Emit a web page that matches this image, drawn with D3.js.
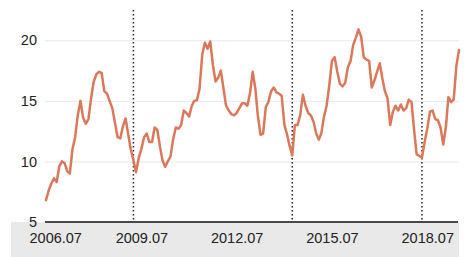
<!DOCTYPE html>
<html>
<head>
<meta charset="utf-8">
<script src="https://cdn.jsdelivr.net/npm/d3@7"></script>
<style>
  html, body { margin: 0; padding: 0; background: #fff; }
  svg { display: block; font-family: "Liberation Sans", Arial, sans-serif; }
</style>
</head>
<body>
<svg id="chart" width="469" height="257"></svg>
<script>
// monthly series, first month 2006.07
const startMonth = "2006-07";
const values = [
  6.8, 7.6, 8.2, 8.6, 8.3, 9.6, 10.0, 9.85, 9.2, 9.0, 11.0, 12.0,
  13.8, 15.0, 13.6, 13.1, 13.5, 15.2, 16.6, 17.2, 17.4, 17.3, 15.8, 15.6,
  15.0, 14.4, 13.2, 12.0, 11.9, 12.9, 13.55, 12.2, 11.0, 10.1, 9.1, 10.3,
  11.0, 12.0, 12.3, 11.6, 11.6, 12.8, 12.6, 11.2, 10.1, 9.55, 10.0, 10.4,
  11.8, 12.8, 12.7, 13.0, 14.2, 14.0, 13.7, 14.6, 15.0, 15.05, 16.0, 18.8,
  19.8, 19.3, 19.9, 18.0, 16.6, 16.9, 17.5, 16.0, 14.6, 14.2, 13.9, 13.8,
  14.0, 14.4, 14.8, 14.8, 14.6, 15.6, 17.4, 16.0, 13.8, 12.2, 12.3, 14.5,
  14.9, 15.8, 16.1, 15.7, 15.6, 15.4, 13.0, 12.2, 11.3, 10.5, 13.0, 13.0,
  13.8, 15.5, 14.6, 14.0, 13.8, 13.3, 12.3, 11.8, 12.3, 13.7, 14.6, 16.3,
  18.3, 18.6, 17.4, 16.4, 16.2, 16.5, 17.8, 18.3, 19.6, 20.2, 20.9, 20.3,
  18.6, 18.4, 18.3, 16.1, 16.7, 17.4, 18.1, 16.8, 15.8, 15.2, 13.0, 14.1,
  14.6, 14.2, 14.7, 14.2, 14.4, 15.1, 14.9, 12.5, 10.6, 10.45, 10.3, 11.6,
  12.7, 14.1, 14.2, 13.5, 13.4, 12.8, 11.4, 12.9, 15.3, 14.9, 15.1, 17.9,
  19.2
];
const xTicks = ["2006-07", "2009-07", "2012-07", "2015-07", "2018-07"];
const yTicks = [5, 10, 15, 20];
const markers = ["2009-04", "2014-04", "2018-05"];

const parse = d3.timeParse("%Y-%m");
const fmt = d3.timeFormat("%Y.%m");
const t0 = parse(startMonth);
const data = values.map((v, i) => ({ date: d3.timeMonth.offset(t0, i), value: v }));

const svg = d3.select("#chart");
const W = 469, H = 257;
const margin = { top: 10, right: 10, bottom: 35, left: 46 };

const x = d3.scaleTime()
  .domain(d3.extent(data, d => d.date))
  .range([margin.left, W - margin.right]);
const y = d3.scaleLinear()
  .domain([5, 22.5])
  .range([H - margin.bottom, margin.top]);

// grey band under the axis
svg.append("rect")
  .attr("x", 11).attr("y", y(5))
  .attr("width", 448).attr("height", H - y(5))
  .attr("fill", "#e9e9e9");

// gridlines + y labels
const yAxis = svg.append("g")
  .attr("transform", `translate(${margin.left - 1},0)`)
  .call(d3.axisLeft(y).tickValues(yTicks).tickSize(-(W - margin.left - 9)).tickPadding(8));
yAxis.select(".domain").remove();
yAxis.selectAll(".tick line").attr("stroke", "#e8e8e8").attr("stroke-width", 1);
yAxis.selectAll(".tick text")
  .attr("font-size", 14.5).attr("fill", "#222")
  .attr("font-family", "Liberation Sans, Arial, sans-serif");

// dotted event lines
svg.selectAll(".marker")
  .data(markers)
  .enter().append("line")
  .attr("class", "marker")
  .attr("x1", d => x(parse(d))).attr("x2", d => x(parse(d)))
  .attr("y1", margin.top).attr("y2", y(5))
  .attr("stroke", "#222").attr("stroke-width", 1.5)
  .attr("stroke-dasharray", "1.5,2.5");

// line
svg.append("path")
  .datum(data)
  .attr("fill", "none")
  .attr("stroke", "#da785b")
  .attr("stroke-width", 2.5)
  .attr("stroke-linejoin", "round")
  .attr("stroke-linecap", "round")
  .attr("d", d3.line().x(d => x(d.date)).y(d => y(d.value)));

// x axis
const xAxis = svg.append("g")
  .attr("transform", `translate(0,${y(5)})`)
  .call(d3.axisBottom(x).tickValues(xTicks.map(parse)).tickFormat(fmt).tickSize(0).tickPadding(11));
xAxis.select(".domain").attr("stroke", "#111").attr("stroke-width", 1.6)
  .attr("d", `M${margin.left - 1},0H${W - 11}`);
xAxis.selectAll(".tick text")
  .attr("font-size", 14.5).attr("fill", "#222")
  .attr("font-family", "Liberation Sans, Arial, sans-serif");
// first label sits right of its tick so it stays inside the band
xAxis.select(".tick:first-of-type text").attr("text-anchor", "start").attr("x", -17);
</script>
</body>
</html>
